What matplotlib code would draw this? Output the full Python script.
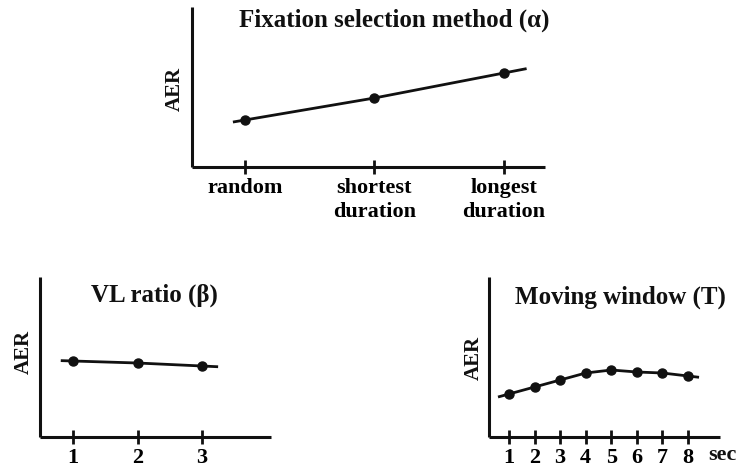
import numpy as np
import matplotlib
matplotlib.use("Agg")
import matplotlib.pyplot as plt

# ---------------- data ----------------
fix_labels = ["random", "shortest\nduration", "longest\nduration"]
fix_aer = [0.47, 0.69, 0.94]

vl_labels = ["1", "2", "3"]
vl_values = [1, 2, 3]
vl_aer = [0.76, 0.74, 0.71]

mw_labels = ["1", "2", "3", "4", "5", "6", "7", "8"]
mw_values = [1, 2, 3, 4, 5, 6, 7, 8]
mw_aer = [0.43, 0.50, 0.57, 0.64, 0.67, 0.65, 0.64, 0.61]

titles = ["Fixation selection method (\u03b1)", "VL ratio (\u03b2)", "Moving window (T)"]
ylabel = "AER"
unit_label = "sec"

# ---------------- style ----------------
FONT = "Liberation Serif"
INK = "#111111"
plt.rcParams["font.family"] = [FONT, "DejaVu Serif"]
plt.rcParams["font.weight"] = "bold"

fig = plt.figure(figsize=(7.39, 4.68), dpi=100)
W, H = 739, 468


def add_ax(left, top, right, bottom):
    return fig.add_axes([left / W, 1 - bottom / H, (right - left) / W, (bottom - top) / H])


def style(ax, xlim, ylim):
    ax.set_xlim(*xlim)
    ax.set_ylim(*ylim)
    for s in ["top", "right"]:
        ax.spines[s].set_visible(False)
    for s in ["left", "bottom"]:
        ax.spines[s].set_linewidth(2.2)
        ax.spines[s].set_color(INK)
        ax.spines[s].set_capstyle("butt")
    ax.set_yticks([])
    ax.tick_params(axis="x", direction="inout", length=9.5, width=2.0, color=INK,
                   pad=3.0, labelsize=16)


def draw(ax, x, y, ext_l, ext_r):
    x = np.asarray(x, float)
    y = np.asarray(y, float)
    # extend line slightly beyond the end points along the end segments
    x0 = x[0] - ext_l * (x[1] - x[0])
    y0 = y[0] - ext_l * (y[1] - y[0])
    x1 = x[-1] + ext_r * (x[-1] - x[-2])
    y1 = y[-1] + ext_r * (y[-1] - y[-2])
    ax.plot(np.r_[x0, x, x1], np.r_[y0, y, y1], color=INK, lw=2.0, solid_capstyle="butt", zorder=3)
    ax.plot(x, y, "o", color=INK, ms=6.5, zorder=4)


# ---- top panel ----
ax1 = add_ax(192, 7, 545, 167)
fx = np.arange(len(fix_labels))
style(ax1, (-0.409, 2.317), (0, 1.6))
draw(ax1, fx, fix_aer, 0.093, 0.175)
ax1.set_xticks(fx)
ax1.set_xticklabels(fix_labels, fontsize=16, fontweight="bold", linespacing=1.3)
ax1.text(0.572, 0.919, titles[0], transform=ax1.transAxes, ha="center", va="center",
         fontsize=18, fontweight="bold", color=INK)
ax1.text(-0.05, 0.49, ylabel, transform=ax1.transAxes, ha="center", va="center",
         rotation=90, fontsize=15, fontweight="bold", color=INK)

# ---- bottom-left panel ----
ax2 = add_ax(40, 277, 271, 437)
style(ax2, (0.488, 4.07), (0, 1.6))
draw(ax2, vl_values, vl_aer, 0.19, 0.25)
ax2.set_xticks(vl_values)
ax2.set_xticklabels(vl_labels, fontsize=16, fontweight="bold")
ax2.text(0.494, 0.8875, titles[1], transform=ax2.transAxes, ha="center", va="center",
         fontsize=18, fontweight="bold", color=INK)
ax2.text(-0.068, 0.53, ylabel, transform=ax2.transAxes, ha="center", va="center",
         rotation=90, fontsize=15, fontweight="bold", color=INK)

# ---- bottom-right panel ----
ax3 = add_ax(489, 277, 720, 437)
style(ax3, (0.218, 9.25), (0, 1.6))
draw(ax3, mw_values, mw_aer, 0.43, 0.43)
ax3.set_xticks(mw_values)
ax3.set_xticklabels(mw_labels, fontsize=16, fontweight="bold")
ax3.text(0.569, 0.875, titles[2], transform=ax3.transAxes, ha="center", va="center",
         fontsize=18, fontweight="bold", color=INK)
ax3.text(-0.064, 0.495, ylabel, transform=ax3.transAxes, ha="center", va="center",
         rotation=90, fontsize=15, fontweight="bold", color=INK)
ax3.text(0.95, -0.115, unit_label, transform=ax3.transAxes, ha="left", va="center",
         fontsize=16, fontweight="bold", color=INK)

fig.savefig("out.png", dpi=100, facecolor="white")
